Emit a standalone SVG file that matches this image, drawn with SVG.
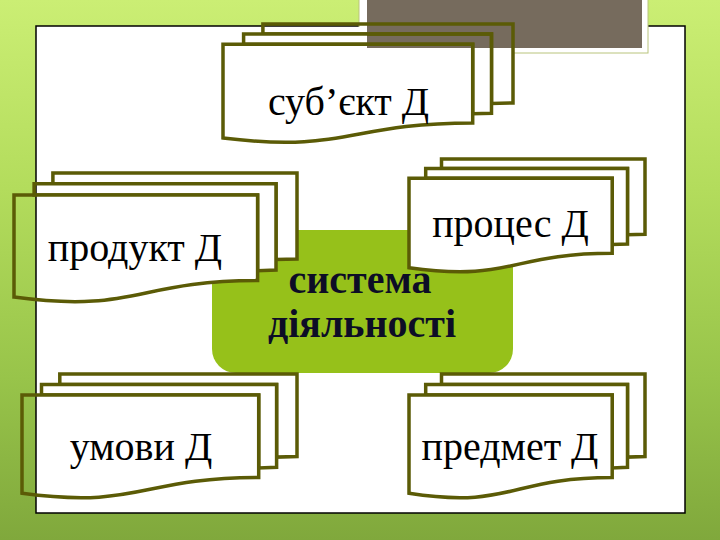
<svg xmlns="http://www.w3.org/2000/svg" width="720" height="540" viewBox="0 0 720 540">
  <defs>
    <linearGradient id="bg" x1="0" y1="0" x2="0" y2="1">
      <stop offset="0" stop-color="#cbee74"/>
      <stop offset="0.35" stop-color="#b3dc5c"/>
      <stop offset="0.7" stop-color="#98c44a"/>
      <stop offset="1" stop-color="#80a83c"/>
    </linearGradient>
    <pattern id="pf" patternUnits="userSpaceOnUse" x="0" y="0" width="720" height="540">
      <path fill="#ffffff" fill-rule="evenodd" d="M37,27 H684 V512 H37 Z M367,27 H642 V48 H367 Z"/>
    </pattern>
    <style>
      .pg { fill: url(#pf); stroke: #5b5b06; stroke-width: 3.5; stroke-linejoin: miter; }
      .lbl { font-family: "Liberation Serif", "Times New Roman", serif; font-size: 40px; fill: #000000; text-anchor: middle; }
      .ctr { font-family: "Liberation Serif", "Times New Roman", serif; font-size: 40px; font-weight: bold; fill: #0d0d26; text-anchor: middle; }
    </style>
  </defs>

  <!-- background -->
  <rect x="0" y="0" width="720" height="540" fill="url(#bg)"/>
  <rect x="36" y="26" width="649" height="487" fill="#ffffff" stroke="#000000" stroke-width="1.5"/>
  <rect x="359" y="-2" width="289" height="55" fill="#ffffff" stroke="#b9c47c" stroke-width="1"/>
  <rect x="367" y="0" width="275" height="48" fill="#766b5d"/>

  <!-- central node -->
  <g id="node-center">
    <rect x="212" y="230" width="301" height="143" rx="24" ry="24" fill="#96c11a"/>
    <text class="ctr" x="360" y="293">система</text>
    <text class="ctr" x="362" y="337">діяльності</text>
  </g>

  <g id="connectors"></g>

  <g id="node-subject">
    <path class="pg" d="M262.9,34 L262.9,24 L513,24 L513,103 L491.5,103.4 L491.5,34 Z"/>
    <path class="pg" d="M243.6,44.2 L243.6,34 L491.5,34 L491.5,113.2 L472.7,113.7 L472.7,44.2 Z"/>
    <path class="pg" d="M223,138 C347.8,153.2 347.8,122.9 472.7,122.9 L472.7,44.2 L223,44.2 Z"/>
    <text class="lbl" x="348.5" y="115">суб’єкт Д</text>
  </g>

  <g id="node-product">
    <path class="pg" d="M52.9,183.8 L52.9,173 L297,173 L297,259 L276,259.4 L276,183.8 Z"/>
    <path class="pg" d="M34.1,195 L34.1,183.8 L276,183.8 L276,270.1 L257.6,270.7 L257.6,195 Z"/>
    <path class="pg" d="M14,297.1 C135.8,313.6 135.8,280.6 257.6,280.6 L257.6,195 L14,195 Z"/>
    <text class="lbl" x="135" y="261">продукт Д</text>
  </g>

  <g id="node-process">
    <path class="pg" d="M441.5,168.5 L441.5,159 L645,159 L645,234.3 L627.5,234.7 L627.5,168.5 Z"/>
    <path class="pg" d="M425.7,178.2 L425.7,168.5 L627.5,168.5 L627.5,244 L612.2,244.5 L612.2,178.2 Z"/>
    <path class="pg" d="M409,267.7 C510.6,282.2 510.6,253.3 612.2,253.3 L612.2,178.2 L409,178.2 Z"/>
    <text class="lbl" x="510.5" y="237">процес Д</text>
  </g>

  <g id="node-conditions">
    <path class="pg" d="M59.8,384.4 L59.8,374 L297,374 L297,456.6 L276.6,457.1 L276.6,384.4 Z"/>
    <path class="pg" d="M41.5,395.1 L41.5,384.4 L276.6,384.4 L276.6,467.3 L258.7,467.9 L258.7,395.1 Z"/>
    <path class="pg" d="M22,493.3 C140.4,509.1 140.4,477.5 258.7,477.5 L258.7,395.1 L22,395.1 Z"/>
    <text class="lbl" x="141" y="460">умови Д</text>
  </g>

  <g id="node-object">
    <path class="pg" d="M441.5,384.4 L441.5,374 L645,374 L645,456.6 L627.5,457.1 L627.5,384.4 Z"/>
    <path class="pg" d="M425.7,395.1 L425.7,384.4 L627.5,384.4 L627.5,467.3 L612.2,467.9 L612.2,395.1 Z"/>
    <path class="pg" d="M409,493.3 C510.6,509.1 510.6,477.5 612.2,477.5 L612.2,395.1 L409,395.1 Z"/>
    <text class="lbl" x="510" y="460">предмет Д</text>
  </g>
</svg>
